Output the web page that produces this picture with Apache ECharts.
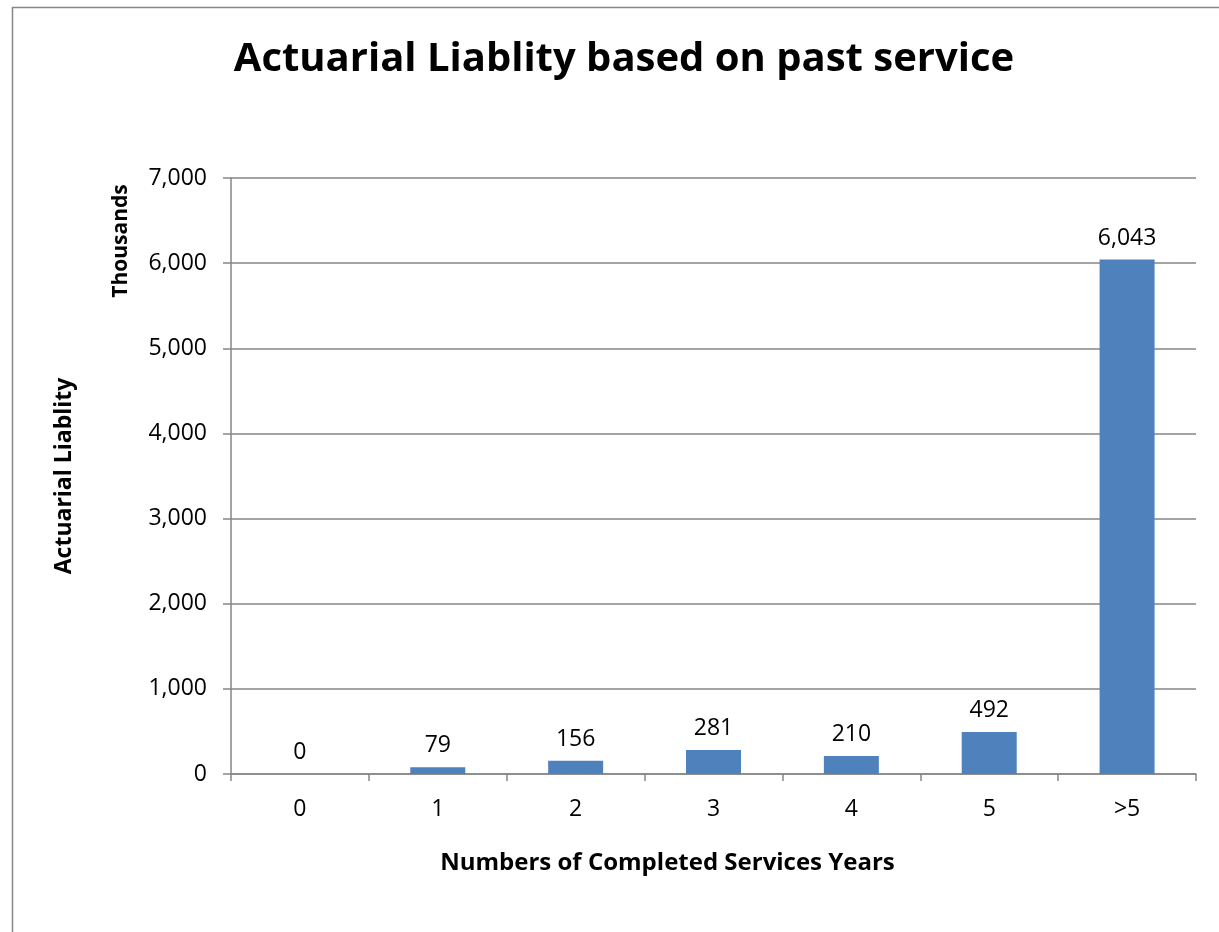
<!DOCTYPE html>
<html><head><meta charset="utf-8">
<script src="https://cdn.jsdelivr.net/npm/echarts@6/dist/echarts.min.js"></script>
<style>html,body{margin:0;padding:0;background:#fff}#c{width:1219px;height:932px}</style>
</head><body><div id="c"></div>
<script>
const categories = ['0','1','2','3','4','5','>5'];
const liability = [0, 79, 156, 281, 210, 492, 6043];
const yMin = 0, yMax = 7000, yStep = 1000;
const F = 'Open Sans';
const chart = echarts.init(document.getElementById('c'), null, {renderer:'canvas'});
chart.setOption({
  animation:false,
  backgroundColor:'#fff',
  title:{text:'Actuarial Liablity based on past service', left:619, top:35, textAlign:'center',
    textStyle:{fontFamily:F, fontWeight:'bold', fontSize:40, color:'#000'}},
  grid:{left:231, right:23, top:178, bottom:158, containLabel:false},
  graphic:[
    {type:'rect', shape:{x:12.5,y:7.5,width:1300,height:1000}, style:{fill:null, stroke:'#868686', lineWidth:1.5}, silent:true},
    {type:'text', x:121, y:241, rotation:Math.PI/2, style:{text:'Thousands', fontFamily:F, fontWeight:'bold', fontSize:21, fill:'#000', align:'center', verticalAlign:'middle'}}
  ],
  xAxis:{type:'category', data:categories,
    name:'Numbers of Completed Services Years', nameLocation:'middle', nameGap:77,
    nameTextStyle:{fontFamily:F, fontWeight:'bold', fontSize:24, color:'#000', padding:[0,92,0,0]},
    axisLine:{lineStyle:{color:'#868686', width:1.5}},
    axisTick:{show:true, length:7, alignWithLabel:false, lineStyle:{color:'#868686', width:1.5}},
    axisLabel:{fontFamily:F, fontSize:23, color:'#000', margin:24}},
  yAxis:{type:'value', min:yMin, max:yMax, interval:yStep,
    name:'Actuarial Liablity', nameLocation:'middle', nameGap:155,
    nameTextStyle:{fontFamily:F, fontWeight:'bold', fontSize:23, color:'#000'},
    axisLine:{show:true, lineStyle:{color:'#868686', width:1.5}},
    axisTick:{show:true, length:8, lineStyle:{color:'#868686', width:1.5}},
    splitLine:{lineStyle:{color:'#868686', width:1.5}},
    axisLabel:{fontFamily:F, fontSize:23, color:'#000', margin:24,
      formatter:v=>v.toLocaleString('en-US')}},
  series:[{type:'bar', data:liability, barWidth:55,
    itemStyle:{color:'#4F81BD'},
    label:{show:true, position:'top', distance:10, fontFamily:F, fontSize:23, color:'#000',
      formatter:p=>p.value.toLocaleString('en-US')}}]
});
</script></body></html>
